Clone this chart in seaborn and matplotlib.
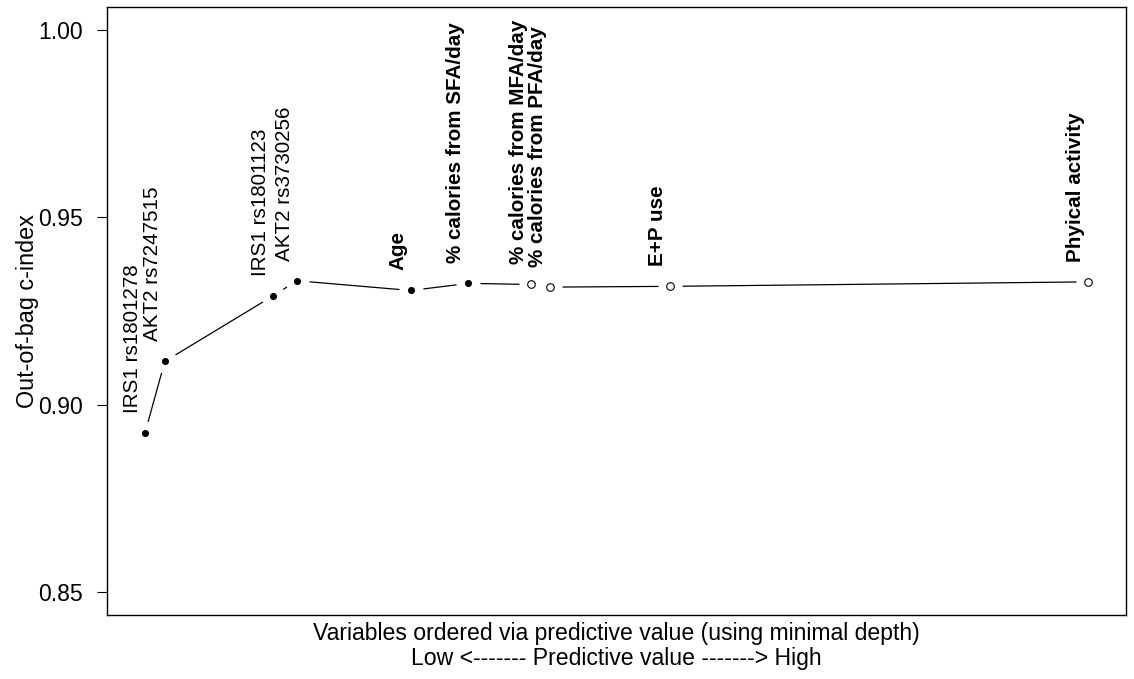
import pandas as pd
import seaborn as sns
import matplotlib
import matplotlib.pyplot as plt

matplotlib.use('Agg')

# variables in order of minimal depth, with the out-of-bag c-index after each is added
variables = ["IRS1 rs1801278", "AKT2 rs7247515", "IRS1 rs1801123", "AKT2 rs3730256",
             "Age", "% calories from SFA/day", "% calories from MFA/day",
             "% calories from PFA/day", "E+P use", "Phyical activity"]
depth = [0.0, 0.21, 1.36, 1.61, 2.82, 3.43, 4.09, 4.30, 5.57, 10.0]
c_index = [0.8925, 0.9116, 0.9291, 0.9331, 0.9305, 0.9324, 0.9321, 0.9314, 0.9316, 0.9328]
selected = [True, True, True, True, True, True, False, False, False, False]
bold_label = [False, False, False, False, True, True, True, True, True, True]

df = pd.DataFrame({'variable': variables, 'depth': depth, 'c_index': c_index,
                   'selected': selected, 'bold': bold_label})

sns.set_theme(style='white')
plt.rcParams['font.family'] = ['Liberation Sans', 'DejaVu Sans']

fig = plt.figure(figsize=(11.34, 6.79), dpi=100)
ax = fig.add_axes([0.0946, 0.0943, 0.8981, 0.8950])

#line first, then white discs to make the R type="b" gaps, then the points
sns.lineplot(data=df, x='depth', y='c_index', sort=False, color='black', linewidth=0.9, ax=ax)
sns.scatterplot(data=df, x='depth', y='c_index', color='white', s=300, linewidth=0, zorder=3, ax=ax)
sns.scatterplot(data=df[df['selected']], x='depth', y='c_index', color='black', s=26,
                linewidth=0, zorder=4, ax=ax)
sns.scatterplot(data=df[~df['selected']], x='depth', y='c_index', color='white', edgecolor='black',
                s=30, linewidth=0.8, zorder=4, ax=ax)

for index, row in df.iterrows():
    ax.annotate(row['variable'], (row['depth'], row['c_index']), xytext=(-9, 14.4),
                textcoords='offset points', rotation=90, ha='center', va='bottom',
                fontsize=14.9, fontweight='bold' if row['bold'] else 'normal', color='black')

ax.set_xlim(-0.4, 10.4)
ax.set_ylim(0.844, 1.006)
ax.set_xticks([])
ax.set_yticks([0.85, 0.90, 0.95, 1.00])
ax.set_yticklabels(['0.85', '0.90', '0.95', '1.00'])
ax.tick_params(axis='y', direction='out', length=7.5, width=0.8, pad=10, labelsize=16.6,
               color='black', labelcolor='black', left=True)
for spine in ax.spines.values():
    spine.set_color('black')
    spine.set_linewidth(1.0)

ax.set_ylabel('Out-of-bag c-index', fontsize=16.8, color='black')
ax.yaxis.set_label_coords(-0.067, 0.5)
ax.set_xlabel('Variables ordered via predictive value (using minimal depth)\n'
              'Low <------- Predictive value -------> High',
              fontsize=16.6, color='black', linespacing=1.12)
ax.xaxis.set_label_coords(0.5, -0.012)

plt.savefig('out.png', dpi=100)
